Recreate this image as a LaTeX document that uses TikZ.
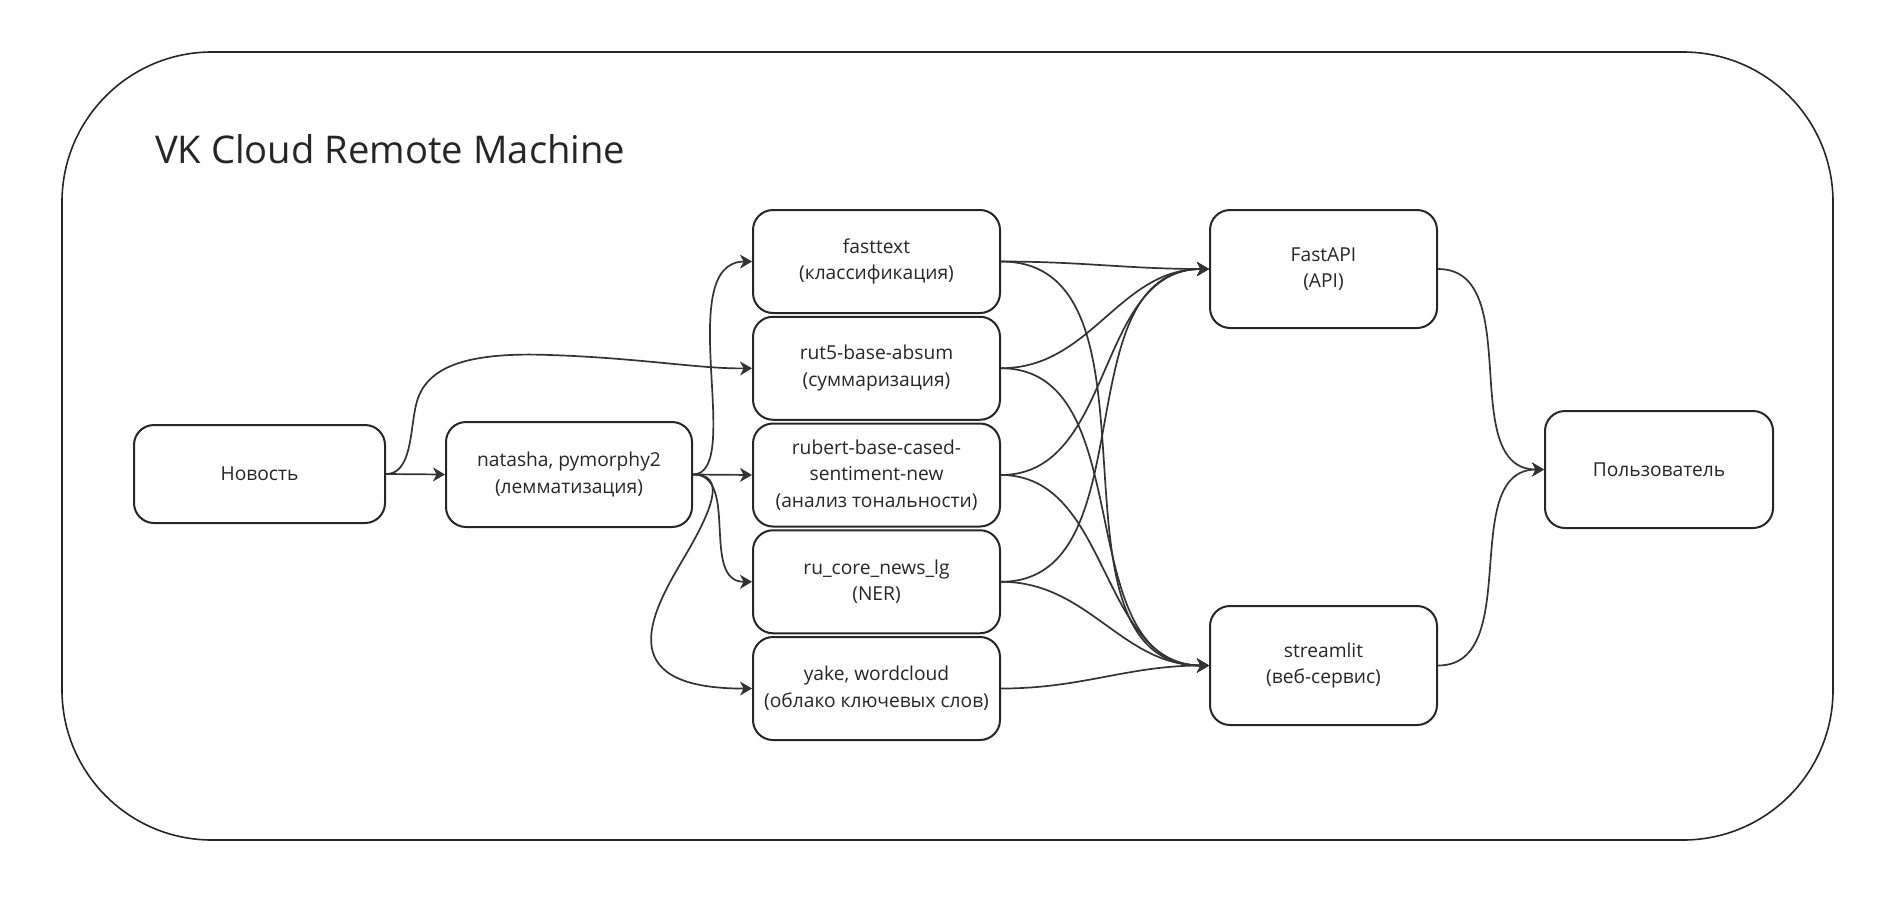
\documentclass[tikz,border=0pt]{standalone}
\usepackage{fontspec}
\setmainfont{Open Sans}
\usetikzlibrary{arrows.meta}
\definecolor{boxcol}{HTML}{262626}
\definecolor{edgecol}{HTML}{333333}

\begin{document}
\begin{tikzpicture}[x=0.5pt,y=-0.5pt,
  box/.style={draw=boxcol,line width=1pt,rounded corners=10pt,align=center,
    font=\fontsize{9.6}{13.3}\selectfont,text=boxcol,inner sep=2pt,
    minimum width=123.5pt,minimum height=51.5pt},
  link/.style={draw=edgecol,line width=0.85pt,-{Stealth[length=6pt,width=7pt,inset=1.8pt]}}]
\useasboundingbox (0,0) rectangle (1895,911);
\draw[boxcol,line width=0.8pt,rounded corners=75pt] (62,52) rectangle (1833,840);
\node[anchor=base west,font=\fontsize{19.1}{23}\selectfont,text=boxcol] (title) at (148,163) {VK Cloud Remote Machine};

\node[box,minimum width=125.5pt,minimum height=49pt] (nov) at (259.5,474) {Новость};
\node[box,minimum width=123pt,minimum height=52.5pt] (nat) at (569,474.5) {natasha, pymorphy2\\(лемматизация)};
\node[box] (fast) at (876.5,261.5) {fasttext\\(классификация)};
\node[box] (rut) at (876.5,368.25) {rut5-base-absum\\(суммаризация)};
\node[box] (rub) at (876.5,475) {rubert-base-cased-\\sentiment-new\\(анализ тональности)};
\node[box] (core) at (876.5,581.75) {ru\_core\_news\_lg\\(NER)};
\node[box] (yake) at (876.5,688.5) {yake, wordcloud\\(облако ключевых слов)};
\node[box,minimum width=113.5pt,minimum height=59pt] (api) at (1323.5,269) {FastAPI\\(API)};
\node[box,minimum width=113.5pt,minimum height=59.5pt] (web) at (1323.5,665.5) {streamlit\\(веб-сервис)};
\node[box,minimum width=114pt,minimum height=58.5pt] (user) at (1659,469.5) {Пользователь};

\draw[link] (nov.east) -- (nat.west);
\draw[link] (nov.east) .. controls (412,474) and (410,430) .. (416,405)
  .. controls (425,365) and (470,352) .. (550,355)
  .. controls (640,358) and (700,369) .. (rut.west);
\draw[link] (nat.east) .. controls (745,474) and (672,262) .. (fast.west);
\draw[link] (nat.east) -- (rub.west);
\draw[link] (nat.east) .. controls (740,474) and (700,582) .. (core.west);
\draw[link] (nat.east) .. controls (725,474) and (715,505) .. (685,556)
  .. controls (655,607) and (605,689) .. (yake.west);

\draw[link] (fast.east) to[out=0,in=180] (api.west);
\draw[link] (rut.east) to[out=0,in=180] (api.west);
\draw[link] (rub.east) to[out=0,in=180] (api.west);
\draw[link] (core.east) to[out=0,in=180] (api.west);
\draw[link] (fast.east) to[out=0,in=180] (web.west);
\draw[link] (rut.east) to[out=0,in=180] (web.west);
\draw[link] (rub.east) to[out=0,in=180] (web.west);
\draw[link] (core.east) to[out=0,in=180] (web.west);
\draw[link] (yake.east) to[out=0,in=180] (web.west);

\draw[link] (api.east) to[out=0,in=180] (user.west);
\draw[link] (web.east) to[out=0,in=180] (user.west);
\end{tikzpicture}
\end{document}
